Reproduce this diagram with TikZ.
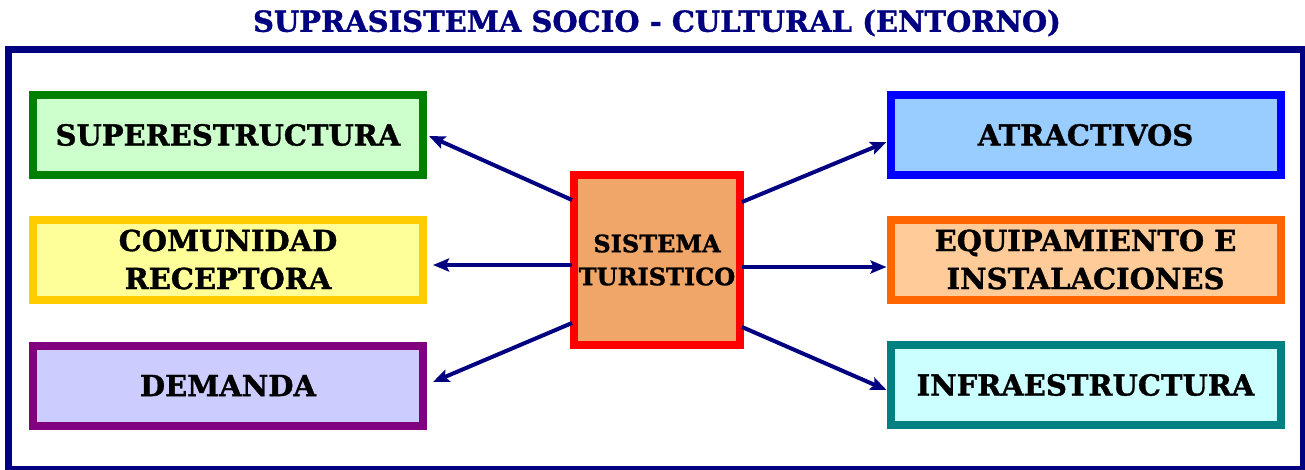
\documentclass[tikz,border=0pt]{standalone}
\usepackage{fontspec}
\setmainfont{DejaVu Serif}[BoldFeatures={FakeBold=1.2}]
\usetikzlibrary{arrows.meta}
\definecolor{navy}{RGB}{0,0,128}
\definecolor{supfill}{RGB}{204,255,204}
\definecolor{supdraw}{RGB}{0,128,0}
\definecolor{comfill}{RGB}{255,255,153}
\definecolor{comdraw}{RGB}{255,204,0}
\definecolor{demfill}{RGB}{204,204,255}
\definecolor{demdraw}{RGB}{128,0,128}
\definecolor{atrfill}{RGB}{153,204,255}
\definecolor{atrdraw}{RGB}{0,0,255}
\definecolor{equfill}{RGB}{255,204,153}
\definecolor{equdraw}{RGB}{255,102,0}
\definecolor{inffill}{RGB}{204,255,255}
\definecolor{infdraw}{RGB}{0,128,128}
\definecolor{cenfill}{RGB}{240,165,105}
\definecolor{cendraw}{RGB}{255,0,0}
\begin{document}
\begin{tikzpicture}[x=1pt,y=-1pt,
  box/.style={draw, line width=8pt, minimum width=390pt, minimum height=80pt,
    inner sep=0pt, align=center, text=black,
    font=\fontsize{29}{38}\selectfont\bfseries},
  center/.style={draw=cendraw, fill=cenfill, line width=8pt, minimum width=166pt,
    minimum height=170pt, inner sep=0pt, align=center, text=black,
    font=\fontsize{24}{33}\selectfont\bfseries},
  conn/.style={draw=navy, line width=4pt, -{Stealth[length=16pt,width=13pt,inset=3pt]}}]
\useasboundingbox (0,0) rectangle (1305,469);
\fill[white] (0,0) rectangle (1305,469);
\node[text=navy, inner sep=0pt, font=\fontsize{29}{32}\selectfont\bfseries] (title) at (657,23)
  {SUPRASISTEMA SOCIO - CULTURAL (ENTORNO)};
\draw[navy, line width=7pt] (8.5,49) rectangle (1303.5,469.5);

\node[box, draw=supdraw, fill=supfill] (sup) at (228,135) {SUPERESTRUCTURA};
\node[box, draw=comdraw, fill=comfill] (com) at (228,259.5) {COMUNIDAD\\RECEPTORA};
\node[box, draw=demdraw, fill=demfill] (dem) at (228,385.5) {DEMANDA};

\node[box, draw=atrdraw, fill=atrfill] (atr) at (1085.5,135) {ATRACTIVOS};
\node[box, draw=equdraw, fill=equfill] (equ) at (1085.5,259.5) {EQUIPAMIENTO E\\INSTALACIONES};
\node[box, draw=infdraw, fill=inffill] (inf) at (1085.5,385) {INFRAESTRUCTURA};

\node[center] (c) at (657,260) {SISTEMA\\TURISTICO};

\draw[conn] ([xshift=2pt,yshift=60pt]c.west) -- ([xshift=2pt,yshift=-1pt]sup.east);
\draw[conn] ([xshift=2pt,yshift=-5pt]c.west) -- ([xshift=6pt,yshift=-5.5pt]com.east);
\draw[conn] ([xshift=2pt,yshift=-63pt]c.west) -- ([xshift=6pt,yshift=3.5pt]dem.east);
\draw[conn] ([xshift=-2pt,yshift=58pt]c.east) -- ([yshift=-7pt]atr.west);
\draw[conn] ([xshift=-2pt,yshift=-7pt]c.east) -- ([yshift=-7.5pt]equ.west);
\draw[conn] ([xshift=-2pt,yshift=-67pt]c.east) -- ([yshift=-5pt]inf.west);
\end{tikzpicture}
\end{document}
